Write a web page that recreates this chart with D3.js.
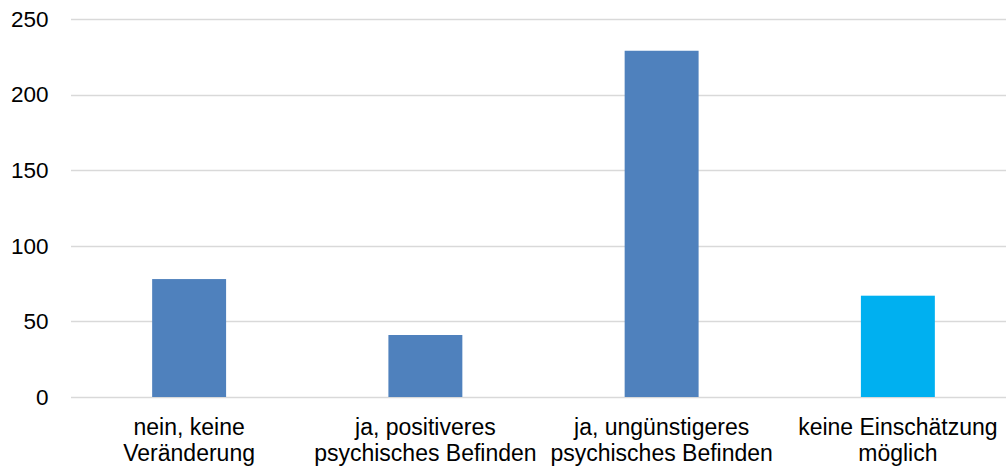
<!DOCTYPE html>
<html>
<head>
<meta charset="utf-8">
<script src="https://cdn.jsdelivr.net/npm/d3@7"></script>
<style>
  body { margin: 0; background: #fff; }
  text { font-family: "Liberation Sans", Arial, sans-serif; fill: #000; }
</style>
</head>
<body>
<div id="chart"></div>
<script>
// data
const categories = [
  ["nein, keine", "Veränderung"],
  ["ja, positiveres", "psychisches Befinden"],
  ["ja, ungünstigeres", "psychisches Befinden"],
  ["keine Einschätzung", "möglich"]
];
const values = [78, 41, 229, 67];
const barColors = ["#4F81BD", "#4F81BD", "#4F81BD", "#00B0F0"];
const yTicks = [0, 50, 100, 150, 200, 250];

const W = 1006, H = 466;
const plot = {left: 71, right: 1016, top: 19, bottom: 397};

const svg = d3.select("#chart")
  .append("svg")
  .attr("width", W)
  .attr("height", H);

const x = d3.scaleBand()
  .domain(d3.range(categories.length))
  .range([plot.left, plot.right]);

const y = d3.scaleLinear()
  .domain([0, 250])
  .range([plot.bottom, plot.top]);

// gridlines
svg.append("g")
  .selectAll("line")
  .data(yTicks)
  .join("line")
    .attr("x1", plot.left)
    .attr("x2", W)
    .attr("y1", d => Math.round(y(d)) + 0.5)
    .attr("y2", d => Math.round(y(d)) + 0.5)
    .attr("stroke", "#D9D9D9")
    .attr("stroke-width", 1.3);

// y tick labels
svg.append("g")
  .selectAll("text")
  .data(yTicks)
  .join("text")
    .attr("x", 48.5)
    .attr("y", d => y(d))
    .attr("dy", "0.35em")
    .attr("text-anchor", "end")
    .style("font-size", "22.5px")
    .text(d => d);

// bars
const barW = x.bandwidth() * 0.313;
svg.append("g")
  .selectAll("rect")
  .data(values)
  .join("rect")
    .attr("x", (d, i) => x(i) + x.bandwidth() / 2 - barW / 2)
    .attr("y", d => y(d))
    .attr("width", barW)
    .attr("height", d => y(0) - y(d))
    .attr("fill", (d, i) => barColors[i]);

// category labels
const lab = svg.append("g")
  .selectAll("text")
  .data(categories)
  .join("text")
    .attr("text-anchor", "middle")
    .style("font-size", "23px");
lab.selectAll("tspan")
  .data((d, i) => d.map(t => ({t, i})))
  .join("tspan")
    .attr("x", d => x(d.i) + x.bandwidth() / 2)
    .attr("y", (d, j) => 435 + j * 25.5)
    .text(d => d.t);
</script>
</body>
</html>
